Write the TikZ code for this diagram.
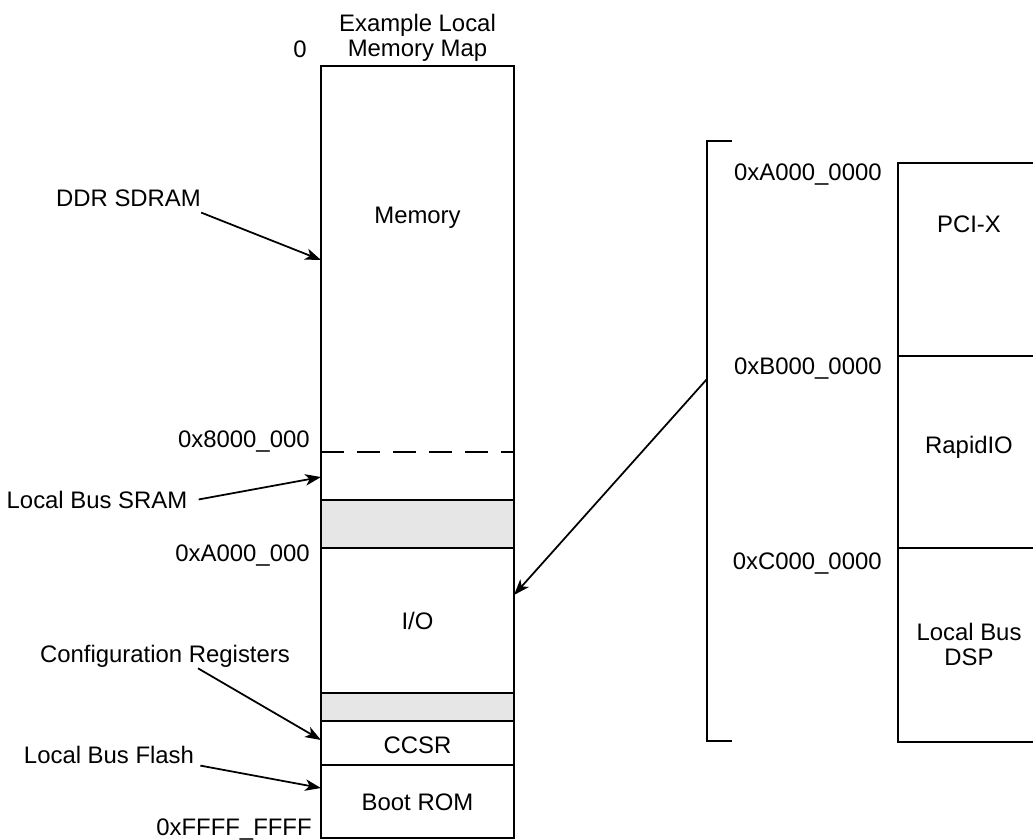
\documentclass[tikz,border=0pt]{standalone}
\usepackage{fontspec}
\setmainfont{Liberation Sans}
\usetikzlibrary{arrows.meta,calc}
\definecolor{gapgray}{HTML}{E6E6E6}

\begin{document}
\begin{tikzpicture}[
    x=0.02cm, y=-0.02cm,
    % === STYLES ===
    box line/.style={line width=1.1pt},
    gap band/.style={fill=gapgray, line width=1.1pt},
    pointer/.style={line width=1pt, -{Stealth[length=9pt, width=6.5pt, inset=2.4pt]}},
    maptext/.style={font=\fontsize{13.6}{14.2}\selectfont, inner sep=0pt, anchor=base},
    addrtext/.style={maptext, anchor=base east},
    twoline/.style={maptext, anchor=center, align=center},
]
    \useasboundingbox (0,0) rectangle (1033,839);

    % === LOCAL MEMORY MAP COLUMN ===
    \draw[gap band] (321,500) rectangle (514,548);
    \draw[gap band] (321,693) rectangle (514,721);
    \draw[box line] (321,66) rectangle (514,838);
    \draw[box line, dash pattern=on 13pt off 7.5pt] (321,452) -- (514,452);
    \draw[box line] (321,765) -- (514,765);

    % === I/O WINDOW DETAIL ===
    \draw[box line] (1040,163) -- (898,163) -- (898,742) -- (1040,742);
    \draw[box line] (898,356) -- (1040,356);
    \draw[box line] (898,548) -- (1040,548);
    \draw[box line] (732,141) -- (707,141) -- (707,741) -- (732,741);

    % === ARROW TARGETS ===
    \coordinate (ddr tip) at (321,260);
    \coordinate (sram tip) at (321,477);
    \coordinate (cfg tip) at (321,740);
    \coordinate (flash tip) at (321,788);
    \coordinate (io tip) at (514,595);
    \coordinate (brk) at (707,379);

    % === LABELS IN THE COLUMN ===
    \node[twoline] (title) at (417.5,38) {Example Local\\Memory Map};
    \node[maptext] (zero) at (300,57) {0};
    \node[maptext] (memory) at (417.5,223) {Memory};
    \node[maptext] (io) at (417.5,629) {I/O};
    \node[maptext] (ccsr) at (417.5,753) {CCSR};
    \node[maptext] (boot) at (417.5,810) {Boot ROM};

    % === ADDRESSES ===
    \node[addrtext] (a8) at (310,447) {0x8000\_000};
    \node[addrtext] (aA) at (310,561) {0xA000\_000};
    \node[addrtext] (aF) at (312,835) {0xFFFF\_FFFF};
    \node[addrtext] (rA) at (882,180) {0xA000\_0000};
    \node[addrtext] (rB) at (882,374) {0xB000\_0000};
    \node[addrtext] (rC) at (882,569) {0xC000\_0000};

    % === I/O REGIONS ===
    \node[maptext] (pcix) at (969,232) {PCI-X};
    \node[maptext] (rapid) at (969,453) {RapidIO};
    \node[twoline] (dsp) at (969,644) {Local Bus\\DSP};

    % === SIDE LABELS ===
    \node[maptext] (ddr) at (128.5,206) {DDR SDRAM};
    \node[maptext] (sram) at (97,508) {Local Bus SRAM};
    \node[maptext] (cfg) at (165,662) {Configuration Registers};
    \node[maptext] (flash) at (109,763) {Local Bus Flash};

    % === ARROWS ===
    \draw[pointer] ($(ddr.south east)+(0,6)$) -- (ddr tip);
    \draw[pointer] ($(sram.east)+(11,0)$) -- (sram tip);
    \draw[pointer] ($(cfg.south)+(33,1)$) -- (cfg tip);
    \draw[pointer] ($(flash.south east)+(6,2)$) -- (flash tip);
    \draw[pointer] (brk) -- (io tip);

\end{tikzpicture}
\end{document}
